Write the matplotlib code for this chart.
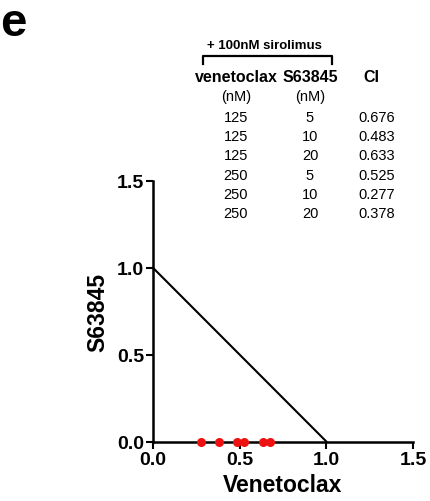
import matplotlib
matplotlib.use("Agg")
import matplotlib.pyplot as plt
from matplotlib.lines import Line2D

plt.rcParams['font.family'] = ['Liberation Sans', 'DejaVu Sans']

# table data
venetoclax_nM = [125, 125, 125, 250, 250, 250]
s63845_nM = [5, 10, 20, 5, 10, 20]
ci_values = [0.676, 0.483, 0.633, 0.525, 0.277, 0.378]

# isobologram line (additivity)
iso_x = [0.0, 1.0]
iso_y = [1.0, 0.0]
ticks = [0.0, 0.5, 1.0, 1.5]

W, H = 431, 502
fig = plt.figure(figsize=(W / 100, H / 100), dpi=100)
ax = fig.add_axes([153 / W, 1 - 442.5 / H, 260 / W, 260.5 / H])

ax.plot(iso_x, iso_y, color='black', lw=1.5, clip_on=False)
ax.plot(ci_values, [0] * len(ci_values), 'o', color='#ee1111', ms=6.5,
        mec='none', clip_on=False, zorder=5)

ax.set_xlim(0, 1.5)
ax.set_ylim(0, 1.5)
ax.set_xticks(ticks)
ax.set_yticks(ticks)
ax.set_xticklabels([f'{t:.1f}' for t in ticks], fontsize=14, fontweight='bold')
ax.set_yticklabels([f'{t:.1f}' for t in ticks], fontsize=14, fontweight='bold')
ax.tick_params(width=1.5, length=5, pad=1.5)
for s in ['top', 'right']:
    ax.spines[s].set_visible(False)
for s in ['left', 'bottom']:
    ax.spines[s].set_linewidth(1.8)
ax.set_xlabel('Venetoclax', fontsize=16.5, fontweight='bold', labelpad=4)
ax.set_ylabel('S63845', fontsize=16.5, fontweight='bold', labelpad=5)

# panel letter
fig.text(0 / W, 1 - 24 / H, 'e', fontsize=34, fontweight='bold', va='center', ha='left')

# table above the plot
def fx(x):
    return x / W

def fy(y):
    return 1 - y / H

fig.text(fx(264), fy(46), '+ 100nM sirolimus', fontsize=9.5, fontweight='bold',
         ha='center', va='center')
fig.add_artist(Line2D([fx(203), fx(203), fx(332), fx(332)],
                      [fy(65), fy(57), fy(57), fy(65)], color='black', lw=1.6))
fig.text(fx(236), fy(78), 'venetoclax', fontsize=11.5, fontweight='bold', ha='center', va='center')
fig.text(fx(310), fy(78), 'S63845', fontsize=11.5, fontweight='bold', ha='center', va='center')
fig.text(fx(371), fy(78), 'CI', fontsize=11.5, fontweight='bold', ha='center', va='center')
fig.text(fx(236), fy(97), '(nM)', fontsize=10.5, ha='center', va='center')
fig.text(fx(310), fy(97), '(nM)', fontsize=10.5, ha='center', va='center')

row_y = 117.5
for v, s, c in zip(venetoclax_nM, s63845_nM, ci_values):
    fig.text(fx(236), fy(row_y), str(v), fontsize=10.5, ha='center', va='center')
    fig.text(fx(310), fy(row_y), str(s), fontsize=10.5, ha='center', va='center')
    fig.text(fx(377), fy(row_y), f'{c:.3f}', fontsize=10.5, ha='center', va='center')
    row_y += 19.4

fig.savefig('out.png', dpi=100)
